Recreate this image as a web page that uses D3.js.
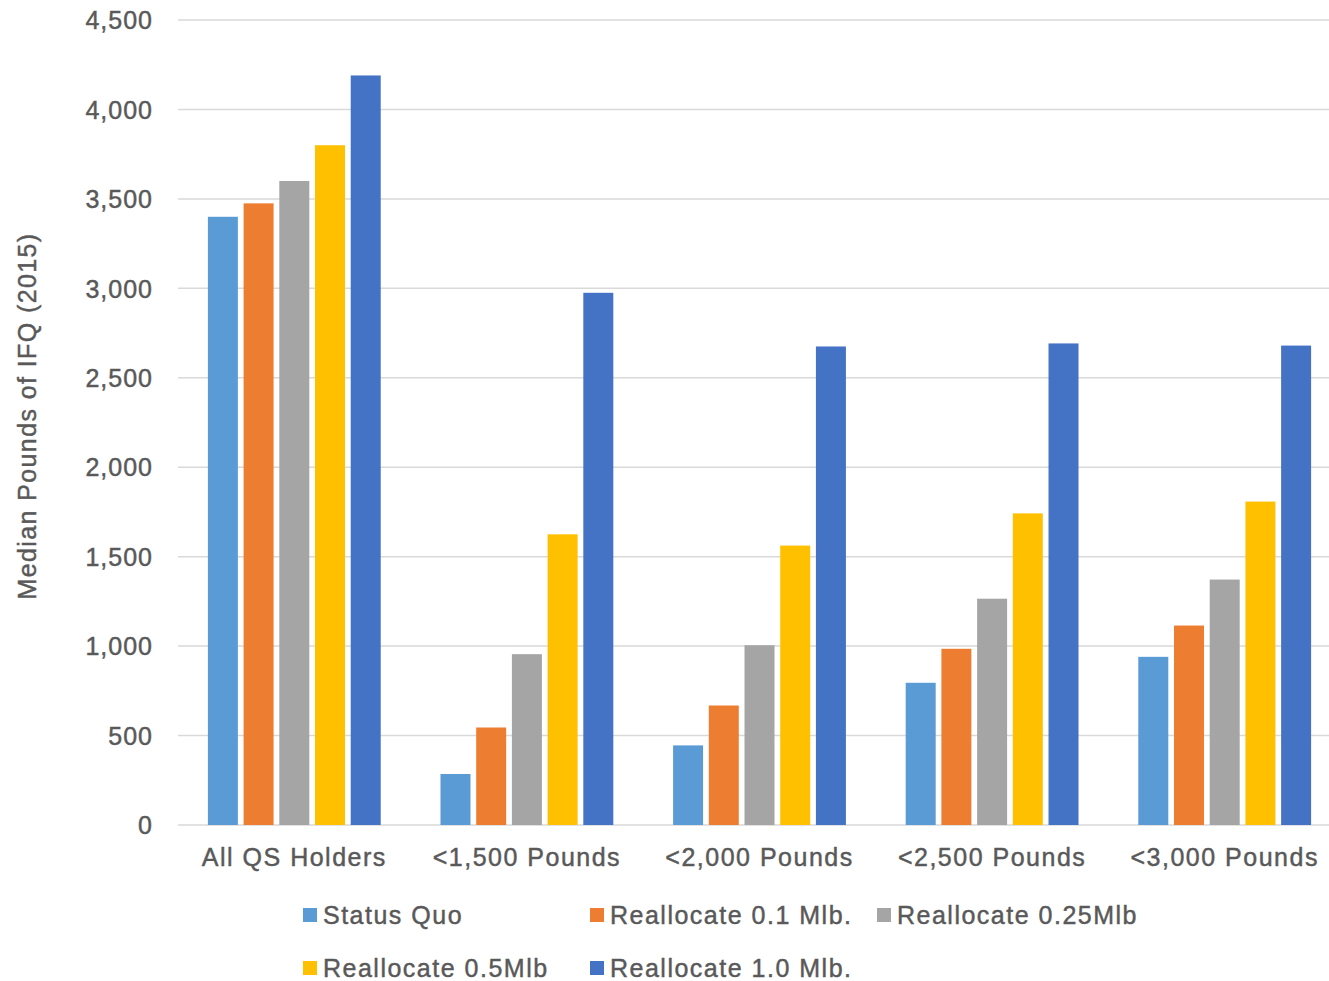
<!DOCTYPE html>
<html>
<head>
<meta charset="utf-8">
<script src="https://cdn.jsdelivr.net/npm/d3@7"></script>
<style>
  html, body { margin: 0; padding: 0; background: #fff; }
  svg { display: block; }
  text { font-family: "Liberation Sans", Arial, sans-serif; fill: #595959; stroke: #595959; stroke-width: 0.45px; }
</style>
</head>
<body>
<svg id="chart" width="1329" height="981"></svg>
<script>
const categories = ["All QS Holders", "<1,500 Pounds", "<2,000 Pounds", "<2,500 Pounds", "<3,000 Pounds"];
const seriesNames = ["Status Quo", "Reallocate 0.1 Mlb.", "Reallocate 0.25Mlb", "Reallocate 0.5Mlb", "Reallocate 1.0 Mlb."];
const seriesColors = ["#5B9BD5", "#ED7D31", "#A5A5A5", "#FFC000", "#4472C4"];
const statusQuo   = [3400, 285, 445, 795, 940];
const realloc01   = [3475, 545, 668, 985, 1115];
const realloc025  = [3600, 955, 1005, 1265, 1372];
const realloc05   = [3800, 1625, 1562, 1742, 1808];
const realloc10   = [4190, 2975, 2675, 2692, 2680];
const yTicks = [0, 500, 1000, 1500, 2000, 2500, 3000, 3500, 4000, 4500];
const yTitle = "Median Pounds of IFQ (2015)";

const seriesValues = [statusQuo, realloc01, realloc025, realloc05, realloc10];

const svg = d3.select("#chart");
const plotLeft = 178, plotRight = 1341, plotTop = 20, plotBottom = 825;

const y = d3.scaleLinear().domain([0, 4500]).range([plotBottom, plotTop]);
const x0 = d3.scaleBand().domain(categories).range([plotLeft, plotRight]).paddingInner(0.257).paddingOuter(0.1285);
const x1 = d3.scaleBand().domain(seriesNames).range([0, x0.bandwidth()]).paddingInner(0.16).paddingOuter(0);

// gridlines
svg.append("g").selectAll("line").data(yTicks).join("line")
  .attr("x1", plotLeft).attr("x2", plotRight)
  .attr("y1", d => y(d)).attr("y2", d => y(d))
  .attr("stroke", "#D9D9D9").attr("stroke-width", 1.5);

// y tick labels
const yAxis = d3.axisLeft(y).tickValues(yTicks).tickFormat(d3.format(",")).tickSize(0).tickPadding(0);
const yg = svg.append("g").attr("transform", `translate(153,0)`).call(yAxis);
yg.select(".domain").remove();
yg.selectAll("text")
  .attr("font-size", 25).attr("letter-spacing", "1px")
  .style("font-family", '"Liberation Sans", Arial, sans-serif')
  .attr("fill", "#595959").attr("dy", "0.35em");

// bars
const groups = svg.append("g").selectAll("g").data(categories).join("g")
  .attr("transform", c => `translate(${x0(c)},0)`);
groups.selectAll("rect")
  .data((c, ci) => seriesNames.map((s, si) => ({ s, si, v: seriesValues[si][ci] })))
  .join("rect")
  .attr("x", d => x1(d.s))
  .attr("width", x1.bandwidth())
  .attr("y", d => y(d.v))
  .attr("height", d => y(0) - y(d.v))
  .attr("fill", d => seriesColors[d.si]);

// x labels
const xAxis = d3.axisBottom(x0).tickSize(0).tickPadding(0);
const xg = svg.append("g").attr("transform", `translate(0,${plotBottom})`).call(xAxis);
xg.select(".domain").remove();
xg.selectAll("text")
  .attr("font-size", 25).attr("letter-spacing", "1.5px")
  .style("font-family", '"Liberation Sans", Arial, sans-serif')
  .attr("fill", "#595959").attr("y", 41).attr("dy", 0);

// y title
svg.append("text")
  .attr("transform", "translate(36,416) rotate(-90)")
  .attr("text-anchor", "middle")
  .attr("font-size", 25).attr("letter-spacing", "1.4px")
  .text(yTitle);

// legend
const legendPos = [
  { x: 303, y: 915 }, { x: 590, y: 915 }, { x: 877, y: 915 },
  { x: 303, y: 968 }, { x: 590, y: 968 }
];
const lg = svg.append("g").selectAll("g").data(seriesNames).join("g")
  .attr("transform", (d, i) => `translate(${legendPos[i].x},${legendPos[i].y})`);
lg.append("rect").attr("x", 0).attr("y", -7).attr("width", 14).attr("height", 14)
  .attr("fill", (d, i) => seriesColors[i]);
lg.append("text").attr("x", 20).attr("dy", "0.35em")
  .attr("font-size", 25).attr("letter-spacing", "1.5px")
  .text(d => d);
</script>
</body>
</html>
